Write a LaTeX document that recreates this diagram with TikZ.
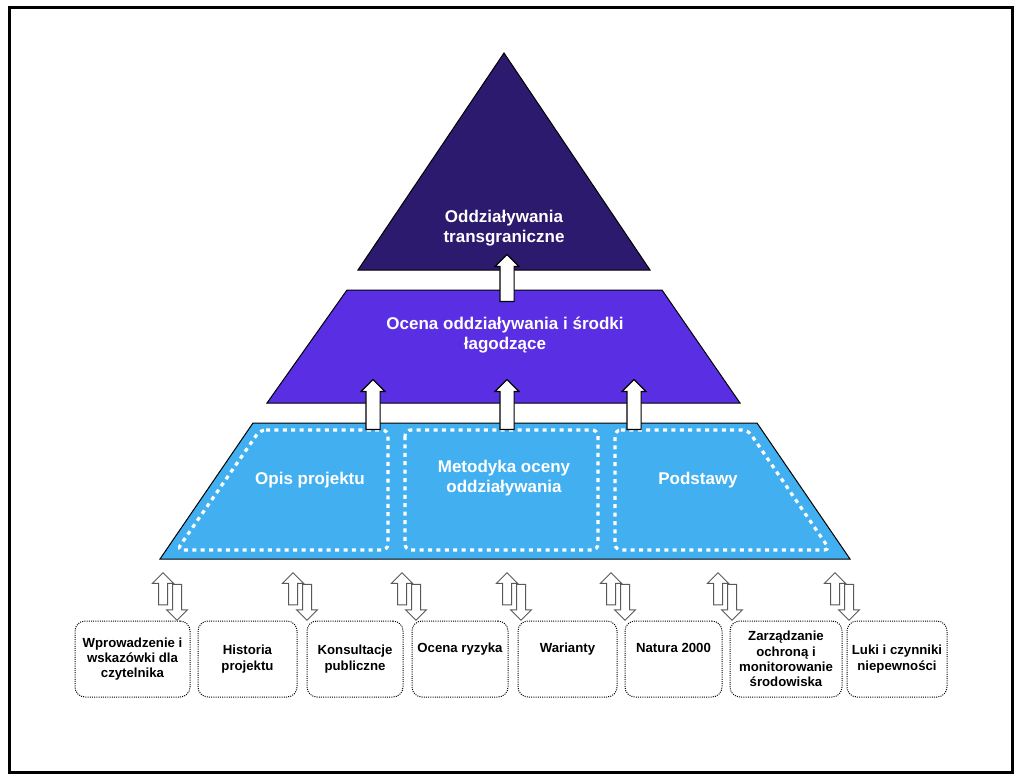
\documentclass[tikz,border=0pt]{standalone}
\usepackage{fontspec}
\setmainfont{Liberation Sans}
\usepackage{tikz}
\usetikzlibrary{positioning,shapes.arrows}
\definecolor{apexblue}{HTML}{2C1A6E}
\definecolor{midviolet}{HTML}{5A2EE2}
\definecolor{baseblue}{HTML}{42B0F0}

\begin{document}
\begin{tikzpicture}[x=0.5pt, y=-0.5pt,
    layertext/.style={text=white, align=center, font=\fontsize{8.5}{10}\selectfont\bfseries},
    slot/.style={draw=white, line width=1.6pt, dash pattern=on 2pt off 2.2pt, rounded corners=3pt},
    chapter/.style={draw=black, line width=0.5pt, dash pattern=on 0.5pt off 0.6pt, rounded corners=5pt,
        minimum height=38pt, inner xsep=2pt, align=center, font=\fontsize{6.6}{7.6}\selectfont\bfseries},
    oneline/.style={text height=5pt, text depth=12pt},
    liftarrow/.style={single arrow, shape border rotate=90, draw=black, fill=white, line width=0.6pt,
        inner sep=3.25pt, single arrow head extend=2.5pt},
    linkup/.style={single arrow, shape border rotate=90, draw=black!65, fill=white, line width=0.5pt,
        inner sep=2pt, single arrow head extend=3pt, minimum height=16pt},
    linkdown/.style={single arrow, shape border rotate=270, draw=black!65, fill=white, line width=0.5pt,
        inner sep=2pt, single arrow head extend=3pt, minimum height=18pt}]
\useasboundingbox (0,0) rectangle (1024,782);
\draw[line width=1.5pt] (9,7) rectangle (1012,772);

% pyramid layers
\draw[fill=apexblue, line width=0.5pt] (504,53) -- (650,270) -- (358,270) -- cycle;
\draw[fill=midviolet, line width=0.5pt] (347,290) -- (662,290) -- (740,403) -- (267,403) -- cycle;
\draw[fill=baseblue, line width=0.5pt] (253,423) -- (757,423) -- (850,559) -- (160,559) -- cycle;

% dotted slots of the base
\draw[slot] (260,430) -- (388,430) -- (388,550) -- (177,550) -- cycle;
\draw[slot] (405,430) rectangle (598,550);
\draw[slot] (615,430) -- (748,430) -- (830,550) -- (615,550) -- cycle;

\node[layertext] (apex)    at (504,228) {Oddziaływania\\transgraniczne};
\node[layertext] (impact)  at (505,335) {Ocena oddziaływania i środki\\łagodzące};
\node[layertext] (desc)    at (310,480) {Opis projektu};
\node[layertext] (method)  at (504,478) {Metodyka oceny\\oddziaływania};
\node[layertext] (basis)   at (698,480) {Podstawy};

% arrows between layers
\node[liftarrow, minimum height=23.5pt] (lift0) at (507,281.5) {};
\node[liftarrow, minimum height=25pt] (lift1) at (373,408) {};
\node[liftarrow, minimum height=25pt] (lift2) at (507,408) {};
\node[liftarrow, minimum height=25pt] (lift3) at (634,408) {};

% chapters
\node[chapter, minimum width=57.5pt] (intro)   at (132.5,659) {Wprowadzenie i\\wskazówki dla\\czytelnika};
\node[chapter, minimum width=49.5pt] (history) at (247.5,659) {Historia\\projektu};
\node[chapter, minimum width=48pt]   (consult) at (355,659)   {Konsultacje\\publiczne};
\node[chapter, oneline, minimum width=48pt]   (risk)     at (460,659)   {Ocena ryzyka};
\node[chapter, oneline, minimum width=49.5pt] (variants) at (567.5,659) {Warianty};
\node[chapter, oneline, minimum width=48.5pt] (natura)   at (673.5,659) {Natura 2000};
\node[chapter, minimum width=56pt]   (manage)  at (786,659)   {Zarządzanie\\ochroną i\\monitorowanie\\środowiska};
\node[chapter, minimum width=50pt]   (gaps)    at (897,659)   {Luki i czynniki\\niepewności};

% two-way links
\node[linkup] (up1) at (163,591) {};
\node[linkdown] (dn1) at (177,600) {};
\node[linkup] (up2) at (293,591) {};
\node[linkdown] (dn2) at (307,600) {};
\node[linkup] (up3) at (402,591) {};
\node[linkdown] (dn3) at (416,600) {};
\node[linkup] (up4) at (507,591) {};
\node[linkdown] (dn4) at (521,600) {};
\node[linkup] (up5) at (611,591) {};
\node[linkdown] (dn5) at (625,600) {};
\node[linkup] (up6) at (718,591) {};
\node[linkdown] (dn6) at (732,600) {};
\node[linkup] (up7) at (835,591) {};
\node[linkdown] (dn7) at (849,600) {};
\end{tikzpicture}
\end{document}
